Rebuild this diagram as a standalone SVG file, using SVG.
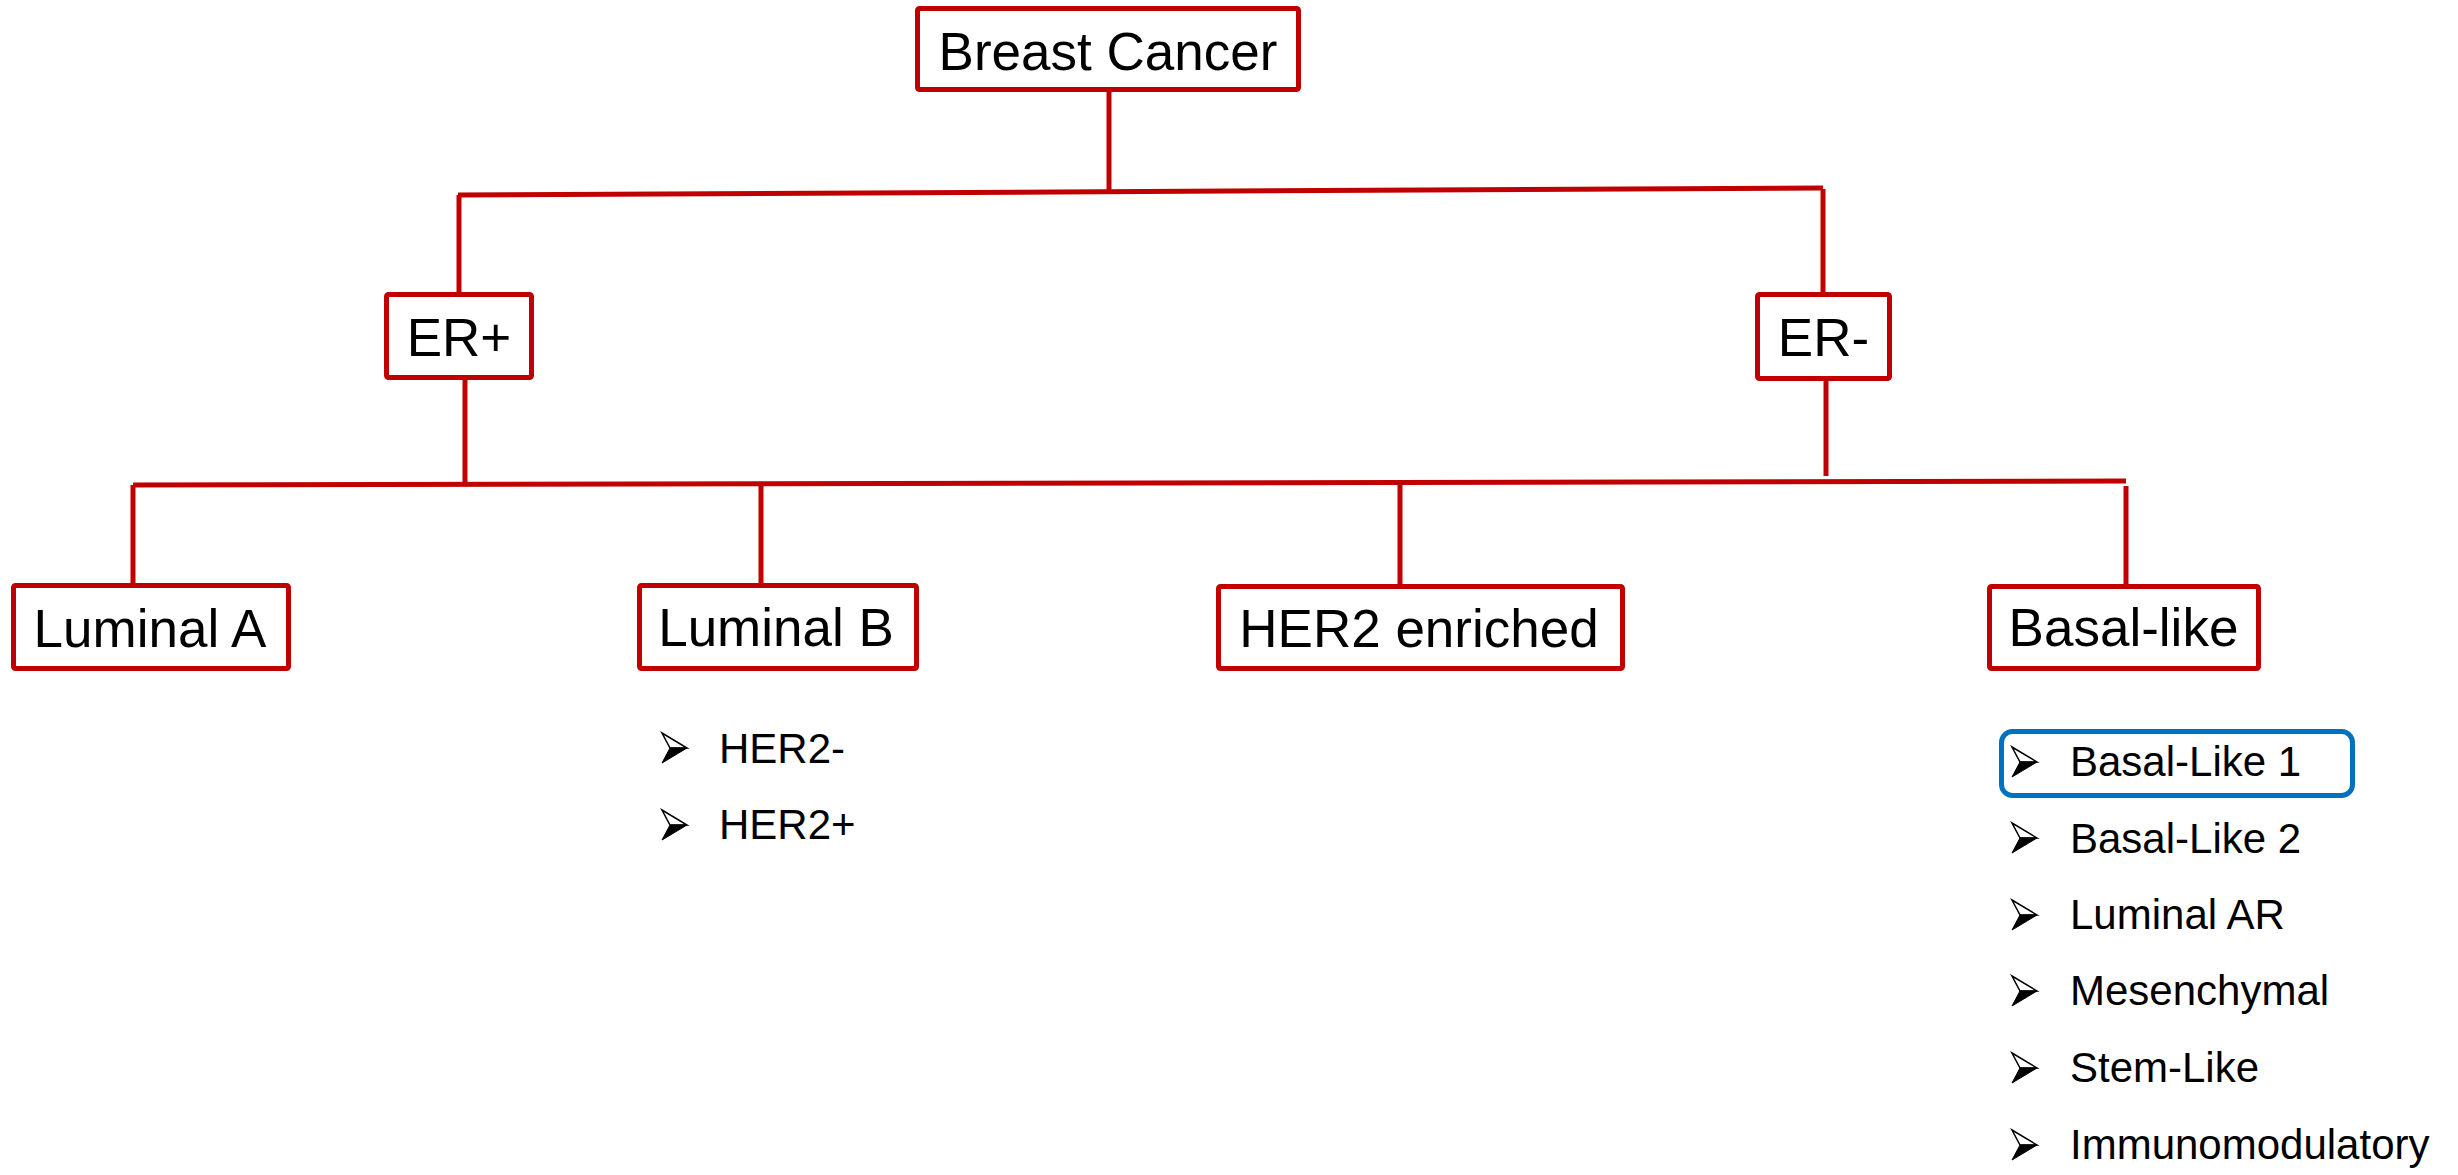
<svg xmlns="http://www.w3.org/2000/svg" width="2458" height="1175" viewBox="0 0 2458 1175">
<style>
.box{fill:#fff;stroke:#C00000;stroke-width:5}
.ln{stroke:#C00000;stroke-width:5;fill:none}
.t{font-family:"Liberation Sans",Arial,sans-serif;font-size:53px;fill:#000;text-anchor:middle}
.b{font-family:"Liberation Sans",Arial,sans-serif;font-size:42px;fill:#000}
</style>
<defs>
<g id="arrow">
<polygon points="0,0 25,15 8,15" fill="#fff" stroke="#000" stroke-width="1.5" stroke-linejoin="miter"/>
<polygon points="8,15 25,15 0,30" fill="#000" stroke="#000" stroke-width="1"/>
</g>
</defs>
<rect width="2458" height="1175" fill="#fff"/>
<g id="connectors">
<line class="ln" x1="1109" y1="92" x2="1109" y2="192"/>
<line class="ln" x1="458" y1="195" x2="1823" y2="188"/>
<line class="ln" x1="459" y1="195" x2="459" y2="292"/>
<line class="ln" x1="1823" y1="189" x2="1823" y2="292"/>
<line class="ln" x1="465" y1="380" x2="465" y2="482"/>
<line class="ln" x1="1826" y1="381" x2="1826" y2="476"/>
<line class="ln" x1="133" y1="485" x2="2126" y2="481"/>
<line class="ln" x1="133" y1="485" x2="133" y2="583"/>
<line class="ln" x1="761" y1="484" x2="761" y2="583"/>
<line class="ln" x1="1400" y1="483" x2="1400" y2="584"/>
<line class="ln" x1="2126" y1="486" x2="2126" y2="584"/>
</g>
<g id="breast-cancer">
<rect class="box" x="917.5" y="8.5" width="381" height="81" rx="2"/>
<text class="t" x="1108" y="70">Breast Cancer</text>
</g>
<g id="er-pos">
<rect class="box" x="386.5" y="294.5" width="145" height="83" rx="2"/>
<text class="t" x="459" y="356">ER+</text>
</g>
<g id="er-neg">
<rect class="box" x="1757.5" y="294.5" width="132" height="84" rx="2"/>
<text class="t" x="1823.5" y="356">ER-</text>
</g>
<g id="luminal-a">
<rect class="box" x="13.5" y="585.5" width="275" height="83" rx="2"/>
<text class="t" x="150" y="647">Luminal A</text>
</g>
<g id="luminal-b">
<rect class="box" x="639.5" y="585.5" width="277" height="83" rx="2"/>
<text class="t" x="776" y="646">Luminal B</text>
</g>
<g id="her2-enriched">
<rect class="box" x="1218.5" y="586.5" width="404" height="82" rx="2"/>
<text class="t" x="1419" y="647">HER2 enriched</text>
</g>
<g id="basal-like">
<rect class="box" x="1989.5" y="586.5" width="269" height="82" rx="2"/>
<text class="t" x="2123.5" y="646">Basal-like</text>
</g>
<g id="luminal-b-list">
<use href="#arrow" x="662" y="733"/>
<text class="b" x="719" y="763">HER2-</text>
<use href="#arrow" x="662" y="810"/>
<text class="b" x="719" y="839">HER2+</text>
</g>
<g id="basal-list">
<rect x="2001.5" y="731.5" width="351" height="64" rx="11" fill="none" stroke="#0070C0" stroke-width="5"/>
<use href="#arrow" x="2012" y="747"/>
<text class="b" x="2070" y="776">Basal-Like 1</text>
<use href="#arrow" x="2012" y="823"/>
<text class="b" x="2070" y="853">Basal-Like 2</text>
<use href="#arrow" x="2012" y="900"/>
<text class="b" x="2070" y="929">Luminal AR</text>
<use href="#arrow" x="2012" y="976"/>
<text class="b" x="2070" y="1005">Mesenchymal</text>
<use href="#arrow" x="2012" y="1053"/>
<text class="b" x="2070" y="1082">Stem-Like</text>
<use href="#arrow" x="2012" y="1130"/>
<text class="b" x="2070" y="1159">Immunomodulatory</text>
</g>
</svg>
